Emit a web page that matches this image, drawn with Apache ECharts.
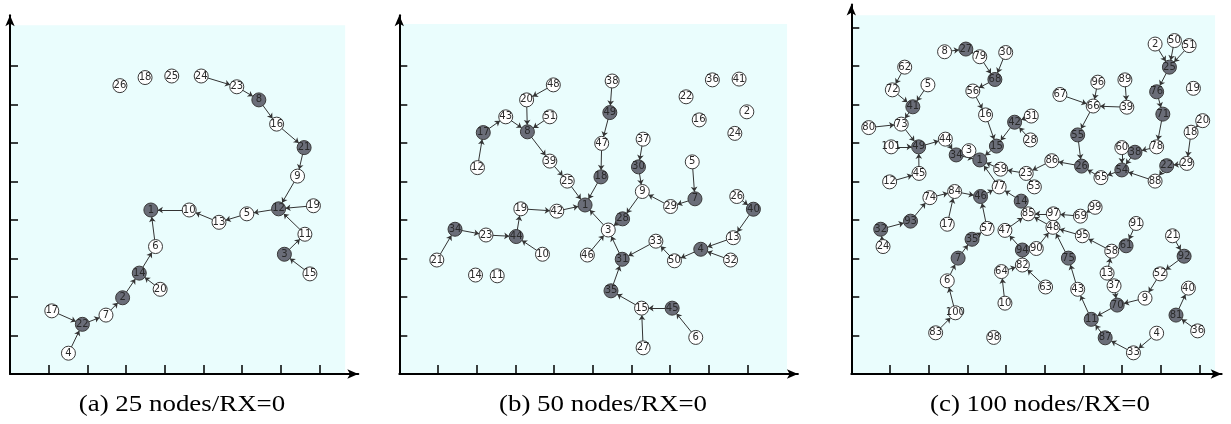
<!DOCTYPE html>
<html><head><meta charset="utf-8">
<script src="https://cdn.jsdelivr.net/npm/echarts@6/dist/echarts.min.js"></script>
<style>html,body{margin:0;padding:0;background:#fff}#c{width:1231px;height:424px}</style>
</head><body><div id="c"></div>
<script>
// ---------- data ----------
const captions = ['(a) 25 nodes/RX=0', '(b) 50 nodes/RX=0', '(c) 100 nodes/RX=0'];

const xTicksA = [1,2,3,4,5,6,7,8];
const yTicksA = [1,2,3,4,5,6,7,8];
const xTicksB = [1,2,3,4,5,6,7,8,9];
const yTicksB = [1,2,3,4,5,6,7,8];
const xTicksC = [1,2,3,4,5,6,7,8,9];
const yTicksC = [1,2,3,4,5,6,7,8,9];

// [node id, x, y]
const nodesA = [[26,2.84,7.49],[18,3.49,7.70],[25,4.18,7.74],[24,4.94,7.74],[23,5.86,7.46],[8,6.43,7.12],[16,6.89,6.49],[21,7.60,5.88],[9,7.43,5.14],[12,6.94,4.29],[19,7.84,4.37],[11,7.62,3.63],[3,7.09,3.11],[15,7.75,2.60],[5,6.12,4.16],[13,5.40,3.94],[10,4.63,4.26],[1,3.64,4.26],[6,3.76,3.31],[14,3.34,2.62],[20,3.88,2.20],[2,2.91,1.98],[7,2.48,1.53],[22,1.87,1.29],[17,1.08,1.64],[4,1.51,0.54]];
const darkA = [8,21,12,3,1,14,2,22];
const edgesA = [[24,23],[23,8],[8,16],[16,21],[21,9],[9,12],[19,12],[11,12],[3,11],[15,3],[12,5],[5,13],[13,10],[10,1],[6,1],[14,6],[20,14],[2,14],[7,2],[22,7],[17,22],[4,22]];

const nodesB = [[48,3.98,7.51],[20,3.29,7.12],[43,2.75,6.68],[51,3.89,6.68],[8,3.31,6.29],[17,2.17,6.27],[12,2.02,5.36],[39,3.89,5.53],[25,4.34,5.01],[38,5.50,7.61],[49,5.44,6.79],[47,5.23,5.99],[18,5.21,5.12],[1,4.80,4.39],[37,6.30,6.10],[30,6.18,5.38],[9,6.28,4.74],[5,7.57,5.51],[7,7.64,4.55],[29,7.01,4.35],[28,5.77,4.03],[3,5.40,3.74],[19,3.14,4.29],[42,4.07,4.23],[34,1.44,3.76],[23,2.24,3.61],[44,3.02,3.57],[10,3.70,3.11],[21,0.97,2.96],[14,1.97,2.57],[11,2.53,2.55],[46,4.86,3.09],[31,5.76,2.98],[33,6.63,3.45],[50,7.11,2.94],[4,7.79,3.24],[13,8.63,3.54],[32,8.56,2.96],[26,8.72,4.61],[40,9.15,4.28],[35,5.47,2.16],[15,6.26,1.71],[45,7.05,1.71],[6,7.66,0.95],[27,6.30,0.68],[36,8.09,7.64],[41,8.78,7.66],[22,7.41,7.20],[2,8.98,6.81],[16,7.75,6.60],[24,8.67,6.25]];
const darkB = [8,17,49,18,1,30,7,28,34,44,31,4,40,35,45];
const edgesB = [[48,20],[20,8],[43,8],[51,8],[17,43],[12,17],[8,39],[39,25],[25,1],[38,49],[49,47],[47,18],[18,1],[37,30],[30,9],[9,28],[29,9],[7,29],[5,7],[28,3],[3,1],[19,42],[42,1],[44,19],[34,23],[23,44],[21,34],[10,44],[46,3],[31,3],[33,31],[50,33],[4,50],[13,4],[32,4],[40,13],[26,40],[35,31],[15,35],[45,15],[6,45],[27,15]];

const nodesC = [[8,2.41,8.37],[27,2.96,8.44],[79,3.32,8.24],[30,3.99,8.35],[68,3.71,7.65],[56,3.14,7.35],[16,3.47,6.73],[42,4.22,6.54],[31,4.65,6.70],[28,4.63,6.08],[15,3.75,5.92],
[62,1.38,7.97],[72,1.06,7.38],[5,1.98,7.51],[41,1.59,6.94],[80,0.45,6.40],[73,1.29,6.49],[101,1.03,5.90],[49,1.74,5.90],[44,2.43,6.10],[34,2.71,5.69],[3,3.04,5.80],[1,3.32,5.56],[12,0.99,4.99],[45,1.75,5.21],
[59,3.86,5.32],[23,4.52,5.21],[53,4.73,4.86],[77,3.82,4.86],[74,2.03,4.58],[84,2.67,4.74],[46,3.34,4.61],[14,4.39,4.49],[85,4.57,4.16],
[2,7.85,8.57],[50,8.35,8.66],[51,8.73,8.53],[25,8.22,7.97],[19,8.84,7.42],[76,7.89,7.33],[71,8.05,6.75],[20,9.08,6.58],[18,8.78,6.28],
[96,6.37,7.58],[89,7.07,7.64],[67,5.39,7.26],[66,6.25,6.96],[39,7.12,6.93],[55,5.85,6.21],[78,7.89,5.90],[60,6.99,5.88],[38,7.33,5.76],[86,5.18,5.54],[26,5.95,5.40],[54,6.99,5.30],[65,6.45,5.10],[22,8.15,5.41],[29,8.67,5.47],[88,7.85,5.01],
[97,5.22,4.16],[69,5.92,4.10],[99,6.30,4.33],[48,5.21,3.81],[95,5.97,3.59],[91,7.36,3.91],[61,7.10,3.33],[58,6.73,3.19],[90,4.78,3.26],[94,4.42,3.22],[75,5.61,3.01],[13,6.61,2.62],[37,6.79,2.29],[21,8.30,3.59],[92,8.60,3.06],[52,7.98,2.60],[40,8.71,2.23],[63,5.02,2.26],[43,5.85,2.20],[9,7.59,1.97],[70,6.87,1.79],[81,8.39,1.53],[36,8.95,1.12],[11,6.20,1.42],[87,6.56,0.94],[4,7.89,1.06],[33,7.29,0.55],
[32,0.76,3.76],[93,1.53,3.97],[24,0.82,3.31],[17,2.48,3.89],[57,3.51,3.78],[35,3.12,3.50],[47,3.97,3.73],[7,2.76,3.01],[82,4.42,2.83],[64,3.88,2.66],[6,2.48,2.42],[10,3.97,1.84],[100,2.69,1.59],[83,2.18,1.07],[98,3.68,0.95]];
const darkC = [27,68,42,15,41,49,34,1,46,14,25,76,71,55,38,26,54,22,32,93,35,7,94,75,61,92,70,81,11,87];
const edgesC = [[8,27],[27,79],[79,68],[30,68],[68,56],[56,16],[16,15],[42,15],[31,42],[28,42],[15,1],
[62,72],[72,41],[5,41],[41,73],[80,73],[73,49],[101,49],[45,49],[12,45],[49,44],[44,34],[34,1],[3,1],
[59,1],[77,1],[23,59],[86,23],[53,23],[26,86],[46,77],[84,46],[74,84],[17,84],[93,74],[32,93],[24,32],[57,46],[35,57],[7,35],[6,7],[100,6],[83,100],
[14,77],[85,14],[47,85],[97,85],[48,85],[69,97],[99,69],[95,48],[58,95],[61,58],[91,61],[13,58],[37,70],[9,70],[52,9],[92,52],[21,92],[70,11],[11,43],[43,75],[75,48],[87,11],[33,87],[4,33],[90,48],[94,47],[82,94],[64,82],[10,64],[63,82],
[65,26],[55,26],[66,55],[96,66],[67,66],[39,66],[89,39],[54,65],[60,54],[38,54],[88,54],[78,38],[71,78],[76,71],[25,76],[2,25],[50,25],[51,25],[22,88],[29,22],[18,29],[20,18],[36,81],[81,40]];

// ---------- layout / style ----------
const BG = '#eafdfd', DARK = '#6a6d78';
const UX = 38.7, UY = 38.5, BOTTOM = 374;
const panels = [
  {left:10,    xMax:9.0,  yMax:9.32, bgX:8.66, bgY:9.06, xt:xTicksA, yt:yTicksA, nodes:nodesA, dark:darkA, edges:edgesA, capX:182},
  {left:399.3, xMax:10.3, yMax:9.32, bgX:10.02,bgY:9.09, xt:xTicksB, yt:yTicksB, nodes:nodesB, dark:darkB, edges:edgesB, capX:603},
  {left:851.3, xMax:9.57, yMax:9.6,  bgX:9.4,  bgY:9.32, xt:xTicksC, yt:yTicksC, nodes:nodesC, dark:darkC, edges:edgesC, capX:1040}
];

const grid = [], xAxis = [], yAxis = [], series = [];
panels.forEach((p, i) => {
  grid.push({left:p.left, width:p.xMax*UX, top:BOTTOM - p.yMax*UY, height:p.yMax*UY, containLabel:false});
  const axisCommon = {
    type:'value', gridIndex:i, min:0, interval:1, z:10,
    axisLine:{show:true, onZero:false, lineStyle:{color:'#000', width:2}, symbol:['none','arrow'], symbolSize:[7,11]},
    axisLabel:{show:false}, splitLine:{show:false}
  };
  xAxis.push(Object.assign({}, axisCommon, {max:p.xMax,
    axisTick:{show:true, inside:true, length:9, lineStyle:{color:'#000', width:1.5}, customValues:p.xt}}));
  yAxis.push(Object.assign({}, axisCommon, {max:p.yMax,
    axisTick:{show:true, inside:true, length:8, lineStyle:{color:'#000', width:1.5}, customValues:p.yt}}));
  series.push({
    type:'scatter', xAxisIndex:i, yAxisIndex:i, data:[], silent:true, z:1,
    markArea:{silent:true, itemStyle:{color:BG, borderWidth:0}, data:[[{coord:[0,0]},{coord:[p.bgX,p.bgY]}]]}
  });
  series.push({
    type:'graph', coordinateSystem:'cartesian2d', xAxisIndex:i, yAxisIndex:i, layout:'none',
    symbol:'circle', symbolSize:14, z:3,
    data:p.nodes.map(([id,x,y]) => ({name:String(id), value:[x,y],
      itemStyle:{color: p.dark.includes(id) ? DARK : '#ffffff'}})),
    links:p.edges.map(([s,t]) => ({source:String(s), target:String(t)})),
    itemStyle:{borderColor:'#3a3a3a', borderWidth:1},
    label:{show:true, position:'inside', formatter:'{b}', fontSize:10, color:'#2a2a2a', fontFamily:'DejaVu Sans'},
    lineStyle:{color:'#333', width:1, opacity:1, curveness:0},
    edgeSymbol:['none','arrow'], edgeSymbolSize:5,
    emphasis:{disabled:true}
  });
});

const chart = echarts.init(document.getElementById('c'), null, {renderer:'canvas'});
chart.setOption({
  animation:false,
  backgroundColor:'#ffffff',
  grid, xAxis, yAxis, series,
  graphic: panels.map((p, i) => ({
    type:'text', x:p.capX, y:405, scaleX:1.17,
    style:{text:captions[i], font:'23px "Liberation Serif"', fill:'#000', align:'center', verticalAlign:'middle'}
  }))
});
</script></body></html>
